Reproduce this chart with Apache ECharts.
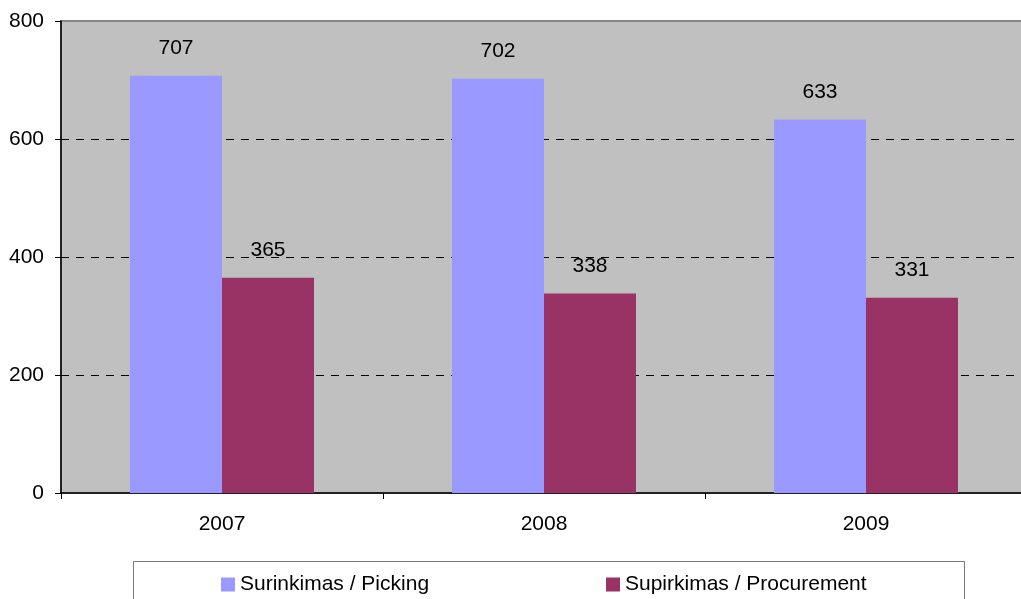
<!DOCTYPE html>
<html>
<head>
<meta charset="utf-8">
<script src="https://cdn.jsdelivr.net/npm/echarts@6/dist/echarts.min.js"></script>
<style>
  html, body { margin: 0; padding: 0; background: #fff; }
  #chart { width: 1021px; height: 599px; }
</style>
</head>
<body>
<div id="chart"></div>
<script>
const years = ["2007", "2008", "2009"];
const picking = [707, 702, 633];
const procurement = [365, 338, 331];
const seriesNames = ["Surinkimas / Picking", "Supirkimas / Procurement"];

const font = "'Liberation Sans', Arial, sans-serif";
const chart = echarts.init(document.getElementById("chart"));

const label = {
  show: true,
  position: "top",
  distance: 17,
  color: "#000",
  fontSize: 21,
  fontFamily: font,
};

const legendText = { fontSize: 21, color: "#000", fontFamily: font, padding: [0, 0, 0, 0] };

chart.setOption({
  animation: false,
  textStyle: { fontFamily: font },
  grid: {
    left: 61,
    width: 966,
    top: 21,
    bottom: 106,
    containLabel: false,
    outerBoundsMode: "none",
    show: true,
    backgroundColor: "#c0c0c0",
    borderColor: "#878787",
    borderWidth: 2,
  },
  graphic: [
    {
      type: "rect",
      shape: { x: 133.5, y: 561.5, width: 831, height: 60 },
      style: { fill: "#fff", stroke: "#777", lineWidth: 1 },
      z: 0,
    },
  ],
  legend: [
    {
      data: [seriesNames[0]],
      left: 221,
      top: 574,
      padding: 0,
      itemWidth: 14,
      itemHeight: 14,
      icon: "rect",
      itemGap: 0,
      textStyle: legendText,
      z: 5,
    },
    {
      data: [seriesNames[1]],
      left: 606,
      top: 574,
      padding: 0,
      itemWidth: 14,
      itemHeight: 14,
      icon: "rect",
      itemGap: 0,
      textStyle: legendText,
      z: 5,
    },
  ],
  xAxis: {
    type: "category",
    data: years,
    axisLine: { lineStyle: { color: "#000", width: 1.5 } },
    axisTick: { show: true, length: 6, alignWithLabel: false, lineStyle: { color: "#000" } },
    axisLabel: { color: "#000", fontSize: 21, margin: 21, fontFamily: font },
  },
  yAxis: {
    type: "value",
    min: 0,
    max: 800,
    interval: 200,
    axisLine: { show: true, lineStyle: { color: "#000", width: 1.5 } },
    axisTick: { show: true, length: 6, lineStyle: { color: "#000" } },
    axisLabel: { color: "#000", fontSize: 21, margin: 17, fontFamily: font },
    splitLine: {
      show: true,
      lineStyle: {
        color: ["transparent", "#000", "#000", "#000", "transparent"],
        type: [8, 7],
        width: 1,
      },
    },
  },
  series: [
    {
      name: seriesNames[0],
      type: "bar",
      data: picking,
      barWidth: 92,
      barGap: "0%",
      itemStyle: { color: "#9999ff" },
      label: label,
    },
    {
      name: seriesNames[1],
      type: "bar",
      data: procurement,
      barWidth: 92,
      itemStyle: { color: "#993366" },
      label: label,
    },
  ],
});
</script>
</body>
</html>
